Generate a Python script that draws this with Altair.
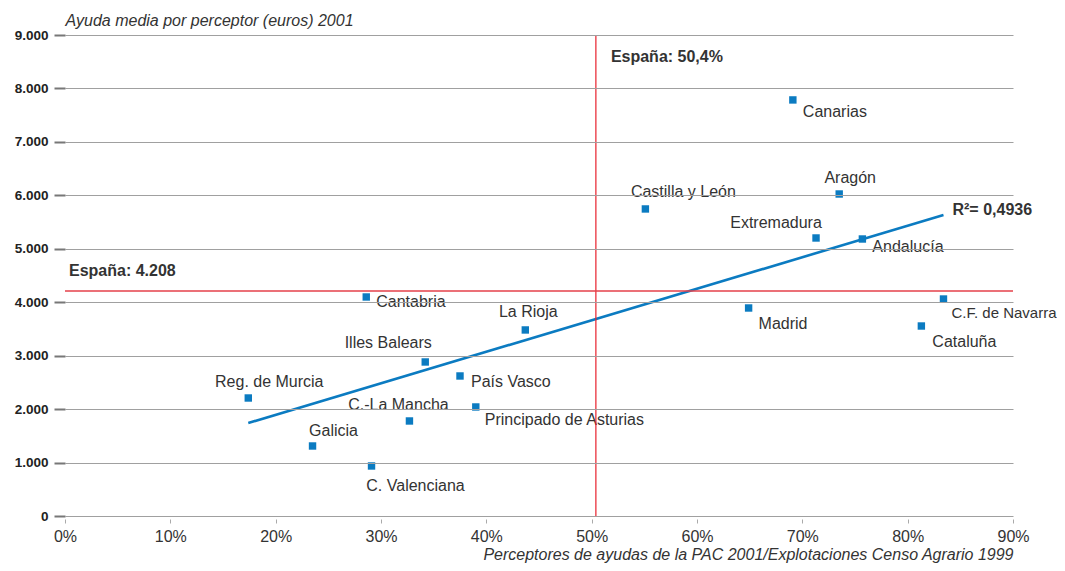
import altair as alt
import pandas as pd

# ---------------- data ----------------
REGIONS = ["Reg. de Murcia", "Galicia", "C. Valenciana", "Cantabria", "Illes Balears",
           "C.-La Mancha", "País Vasco", "Principado de Asturias", "La Rioja",
           "Castilla y León", "Canarias", "Aragón", "Extremadura", "Andalucía",
           "Madrid", "Cataluña", "C.F. de Navarra"]
X_PCT = [17.4, 23.5, 29.1, 28.6, 34.2, 32.7, 37.5, 39.0, 43.7,
         55.1, 69.1, 73.5, 71.3, 75.7, 64.9, 81.3, 83.4]
Y_EUR = [2208, 1310, 936, 4098, 2882, 1778, 2620, 2040, 3481,
         5745, 7785, 6025, 5202, 5183, 3892, 3555, 4060]

TREND_X = [17.4, 83.4]
TREND_Y = [1740, 5632]
R2_TEXT = "R\u00b2= 0,4936"

SPAIN_X = 50.4
SPAIN_Y = 4208
SPAIN_X_TEXT = "España: 50,4%"
SPAIN_Y_TEXT = "España: 4.208"

X_TICKS = [0, 10, 20, 30, 40, 50, 60, 70, 80, 90]
Y_TICKS = [0, 1000, 2000, 3000, 4000, 5000, 6000, 7000, 8000, 9000]

Y_TITLE = "Ayuda media por perceptor (euros) 2001"
X_TITLE = "Perceptores de ayudas de la PAC 2001/Explotaciones Censo Agrario 1999"

# ---------------- styles ----------------
FONT = "Liberation Sans"
TXT = "#333333"
BLUE = "#0b7bc1"
RED = "#e8202c"
GRID = "#a0a0a0"

# name: (align, dx, dy, fontSize)
LABEL_STYLE = {
    "Canarias": ("left", 10, 12.5, 16),
    "Castilla y León": ("center", 38, -16.5, 16),
    "Aragón": ("center", 11, -15.5, 16),
    "Extremadura": ("center", -40, -14.5, 16),
    "Andalucía": ("left", 10, 8, 16),
    "Madrid": ("left", 10, 16, 16),
    "Cataluña": ("left", 11, 16, 16),
    "C.F. de Navarra": ("left", 8, 14, 15),
    "La Rioja": ("center", 3, -18, 16),
    "Cantabria": ("left", 10, 5, 16),
    "Illes Balears": ("center", -37, -19, 16),
    "País Vasco": ("left", 11, 6, 16),
    "Principado de Asturias": ("left", 9, 13, 16),
    "C.-La Mancha": ("center", -11, -16, 16),
    "Reg. de Murcia": ("center", 21, -16, 16),
    "Galicia": ("center", 21, -15, 16),
    "C. Valenciana": ("center", 44, 20, 16),
}

pts = pd.DataFrame({"name": REGIONS, "x": X_PCT, "y": Y_EUR})
trend = pd.DataFrame({"x": TREND_X, "y": TREND_Y})

x_axis = alt.Axis(
    values=X_TICKS, labelExpr="datum.value + '%'", grid=False, domain=False,
    ticks=True, tickColor="#aaaaaa", tickSize=4, offset=3, labelFlush=False,
    labelFont=FONT, labelFontSize=16, labelColor=TXT, labelPadding=5,
    title=X_TITLE, titleFont=FONT, titleFontSize=16, titleFontStyle="italic",
    titleFontWeight="normal", titleColor=TXT, titleAlign="right",
    titleAnchor="end", titleX=948, titleY=40, titleBaseline="alphabetic",
)
y_axis = alt.Axis(
    values=Y_TICKS, labelExpr="replace(format(datum.value, ','), ',', '.')",
    grid=True, gridColor=GRID, gridWidth=1, domain=False,
    ticks=True, tickColor="#777777", tickSize=11, tickWidth=2,
    labelFont=FONT, labelFontSize=13.5, labelFontWeight="bold", labelColor="#222222",
    labelPadding=6,
    title=Y_TITLE, titleFont=FONT, titleFontSize=16, titleFontStyle="italic",
    titleFontWeight="normal", titleColor=TXT, titleAngle=0, titleAlign="left",
    titleX=0, titleY=-10, titleBaseline="alphabetic", zindex=1,
)

X = alt.X("x:Q", scale=alt.Scale(domain=[0, 90], nice=False, zero=False), axis=x_axis)
Y = alt.Y("y:Q", scale=alt.Scale(domain=[0, 9000], nice=False), axis=y_axis)

layers = []

layers.append(alt.Chart(trend).mark_line(color=BLUE, strokeWidth=2.6).encode(x=X, y=Y))

layers.append(
    alt.Chart(pts).mark_square(color=BLUE, size=55, opacity=1, filled=True).encode(x=X, y=Y)
)

for name in REGIONS:
    align, dx, dy, fs = LABEL_STYLE[name]
    layers.append(
        alt.Chart(pts).transform_filter(alt.datum.name == name)
        .mark_text(font=FONT, fontSize=fs, color=TXT, align=align, baseline="middle",
                   dx=dx, dy=dy)
        .encode(x=X, y=Y, text="name:N")
    )

vline = pd.DataFrame({"x": [SPAIN_X], "y": [0], "y2": [9000]})
hline = pd.DataFrame({"x": [0], "x2": [90], "y": [SPAIN_Y]})
layers.append(alt.Chart(vline).mark_rule(color=RED, strokeWidth=1.2).encode(x=X, y=Y, y2="y2:Q"))
layers.append(alt.Chart(hline).mark_rule(color="#e4404a", strokeWidth=1.5).encode(x=X, x2="x2:Q", y=Y))

ann1 = pd.DataFrame({"x": [SPAIN_X], "y": [9000], "t": [SPAIN_X_TEXT]})
ann2 = pd.DataFrame({"x": [0], "y": [SPAIN_Y], "t": [SPAIN_Y_TEXT]})
ann3 = pd.DataFrame({"x": [TREND_X[-1]], "y": [TREND_Y[-1]], "t": [R2_TEXT]})
for df, dx, dy in [(ann1, 15, 22), (ann2, 4, -20), (ann3, 9, -5)]:
    layers.append(
        alt.Chart(df).mark_text(font=FONT, fontSize=16, fontWeight="bold", color=TXT,
                                align="left", baseline="middle", dx=dx, dy=dy)
        .encode(x=X, y=Y, text="t:N")
    )

chart = alt.layer(*layers).properties(
    width=948, height=481, autosize=alt.AutoSizeParams(type="none"),
    padding={"left": 57, "top": 27, "right": 44, "bottom": 47},
    background="white",
).configure_view(stroke=None)

chart.save("out.html", embed_options={"renderer": "svg", "actions": False})
